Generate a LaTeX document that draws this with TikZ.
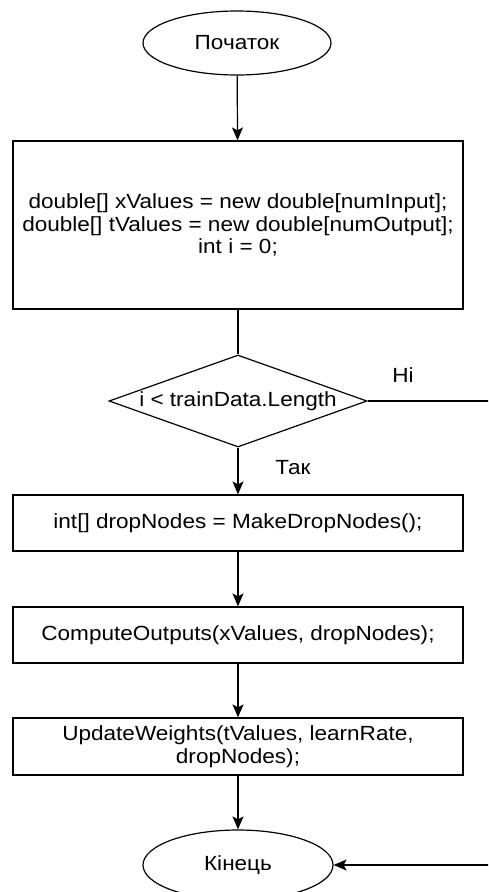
\documentclass[tikz,border=0pt]{standalone}
\usepackage{fontspec}
\setmainfont{Liberation Sans}[FakeStretch=1.1]
\usetikzlibrary{shapes.geometric,arrows.meta}
\begin{document}
\begin{tikzpicture}[x=1pt,y=-1pt,
  every node/.style={font=\fontsize{20.5}{22.5}\selectfont, text=black},
  terminal/.style={draw, ellipse, line width=1.2pt, inner sep=0pt},
  process/.style={draw, rectangle, line width=1.2pt, inner sep=0pt,
                  minimum width=450pt, align=center},
  decision/.style={draw, diamond, line width=1.2pt, inner sep=0pt,
                   minimum width=258pt, minimum height=92pt},
  flow/.style={line width=1.2pt, -{Stealth[length=13pt,width=11pt,inset=3pt]}},
  link/.style={line width=1.2pt},
  lbl/.style={inner sep=0pt}]
\clip (0,0) rectangle (488,892);

% blocks of the loop
\node[terminal, minimum width=188pt, minimum height=64pt] (start) at (237,43) {Початок};
\node[process, minimum height=168pt] (init) at (238,225)
  {double[] xValues = new double[numInput];\\
   double[] tValues = new double[numOutput];\\
   int i = 0;};
\node[decision, label={[lbl]center:i < trainData.Length}] (cond) at (238,401) {};
\node[process, minimum height=56pt] (drop) at (238,523) {int[] dropNodes = MakeDropNodes();};
\node[process, minimum height=56pt] (comp) at (238,635) {ComputeOutputs(xValues, dropNodes);};
\node[process, minimum height=57pt] (upd) at (238,746.5)
  {UpdateWeights(tValues, learnRate,\\ dropNodes);};
\node[terminal, minimum width=190pt, minimum height=70pt] (end) at (238,865) {Кінець};

% exit route along the right edge
\coordinate (r1) at (490,401);
\coordinate (r2) at (490,865);

% connectors
\draw[flow] (start) -- (init);
\draw[link] (init) -- (cond);
\draw[flow] (cond) -- (drop);
\draw[flow] (drop) -- (comp);
\draw[flow] (comp) -- (upd);
\draw[flow] (upd) -- (end);
\draw[flow] (cond.east) -- (r1) -- (r2) -- (end.east);

% branch labels
\node[lbl] (no) at (403,375) {Ні};
\node[lbl] (yes) at (293,468) {Так};
\end{tikzpicture}
\end{document}
